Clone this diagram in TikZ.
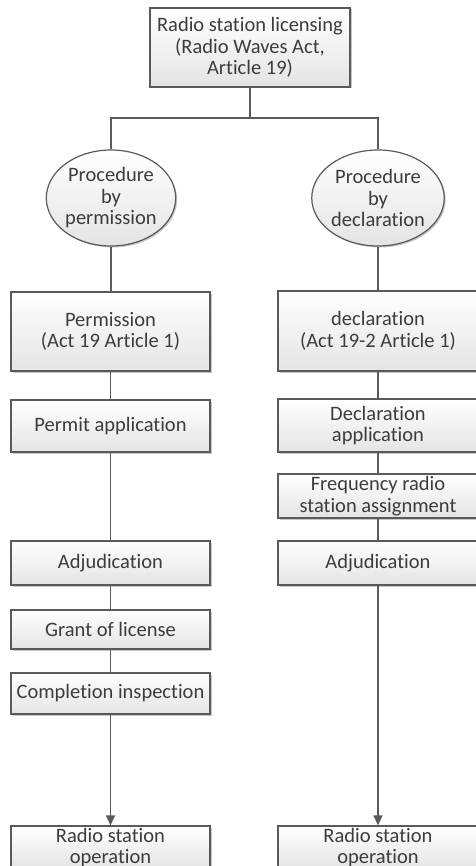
\documentclass[tikz,border=0pt]{standalone}
\usepackage{fontspec}
\setmainfont[Ligatures={NoCommon}]{Carlito}
\usetikzlibrary{shapes.geometric,shadows,arrows.meta}
\definecolor{linegray}{HTML}{5A5A5A}
\definecolor{textgray}{HTML}{3C3C3C}
\definecolor{fillbot}{HTML}{E4E4E4}
\tikzset{
  base/.style={draw=linegray, line width=1.2pt, top color=white, bottom color=fillbot,
    text=textgray, align=center, inner sep=0pt,
    font=\fontsize{20.5}{21.5}\selectfont,
    drop shadow={shadow xshift=1.5pt, shadow yshift=-1.5pt, fill=black, opacity=0.22}},
  stepbox/.style={base, rectangle, minimum width=#1},
  stepbox/.default=199pt,
  oval/.style={base, ellipse, minimum width=120pt, minimum height=96pt},
  conn/.style={draw=linegray, line width=1.2pt},
  arr/.style={conn, -{Triangle[length=10pt,width=9pt]}}
}
\begin{document}
\begin{tikzpicture}[x=1pt,y=-1pt]
\useasboundingbox (0,0) rectangle (475,866);
% top
\node[stepbox=200pt, minimum height=79pt] (top) at (250,47.5) {Radio station licensing\\(Radio Waves Act,\\Article 19)};
\coordinate (j) at (250,118);
% ellipses
\node[oval] (elL) at (111,198) {Procedure\\by\\permission};
\node[oval] (elR) at (378,198) {Procedure\\by\\declaration};
% left column
\node[stepbox, minimum height=79pt] (perm) at (110.5,331.5) {Permission\\(Act 19 Article 1)};
\node[stepbox, minimum height=52pt] (permapp) at (110.5,426) {Permit application};
\node[stepbox, minimum height=44pt] (adjL) at (110.5,563) {Adjudication};
\node[stepbox, minimum height=39pt] (grant) at (110.5,629.5) {Grant of license};
\node[stepbox, minimum height=41pt] (compl) at (110.5,693.5) {Completion inspection};
\node[stepbox, minimum height=43pt] (opL) at (110.5,847.5) {Radio station\\operation};
% right column
\node[stepbox=200pt, minimum height=80pt] (decl) at (378,331) {declaration\\(Act 19-2 Article 1)};
\node[stepbox=200pt, minimum height=53pt] (declapp) at (378,425.5) {Declaration\\application};
\node[stepbox=200pt, minimum height=44pt] (freq) at (378,496) {Frequency radio\\station assignment};
\node[stepbox=200pt, minimum height=44pt] (adjR) at (378,563) {Adjudication};
\node[stepbox=200pt, minimum height=43pt] (opR) at (378,847.5) {Radio station\\operation};
% connectors
\draw[conn] (top.south) -- (j);
\draw[conn] (elL.north) -- (elL.north |- j) -- (elR.north |- j) -- (elR.north);
\draw[conn] (elL.south) -- (elL.south |- perm.north);
\draw[conn] (perm.south) -- (permapp.north);
\draw[conn] (permapp.south) -- (adjL.north);
\draw[conn] (adjL.south) -- (grant.north);
\draw[conn] (grant.south) -- (compl.north);
\draw[arr] (compl.south) -- (opL.north);
\draw[conn] (elR.south) -- (decl.north);
\draw[conn] (decl.south) -- (declapp.north);
\draw[conn] (declapp.south) -- (freq.north);
\draw[conn] (freq.south) -- (adjR.north);
\draw[arr] (adjR.south) -- (opR.north);
\end{tikzpicture}
\end{document}
